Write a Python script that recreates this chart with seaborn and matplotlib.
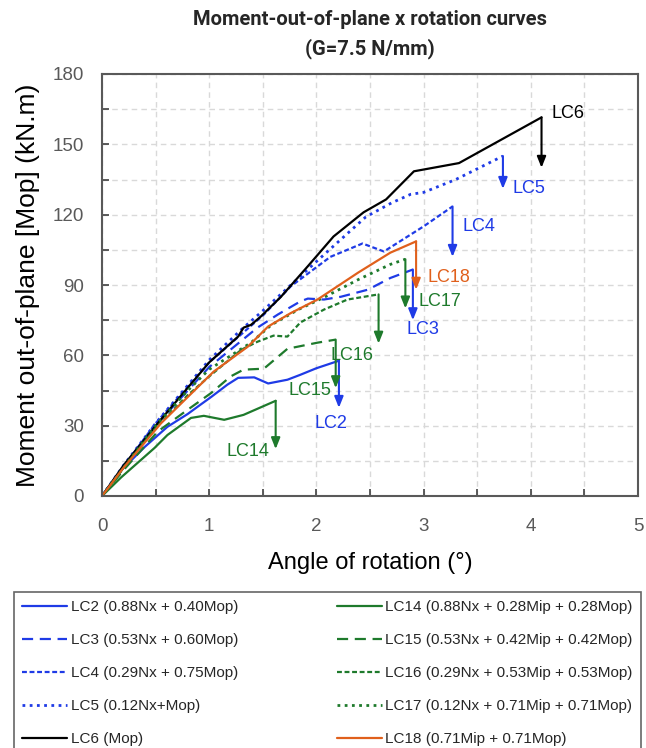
import matplotlib
matplotlib.use("Agg")
import matplotlib.pyplot as plt
import seaborn as sns
import pandas as pd
from matplotlib.ticker import MultipleLocator

# ---------------- data ----------------
lc2_x = [0, 0.18, 0.40, 0.61, 0.80, 0.92, 1.02, 1.17, 1.27, 1.42, 1.55, 1.73, 1.85, 2.00, 2.21]
lc2_y = [0, 11, 21, 29.5, 35, 39, 42.3, 47.5, 50.4, 50.6, 48, 49.6, 51.7, 54.5, 57.7]

lc3_x = [0, 0.20, 0.50, 1.00, 1.45, 1.64, 1.85, 1.92, 2.07, 2.23, 2.48, 2.69, 2.90]
lc3_y = [0, 12, 30, 55, 71.8, 77.4, 83, 84.2, 83.8, 85, 88, 93, 96.6]

lc4_x = [0, 0.20, 0.50, 1.00, 1.30, 1.51, 1.76, 2.13, 2.43, 2.63, 3.00, 3.27]
lc4_y = [0, 12.5, 31, 57, 69, 77.4, 89.4, 102, 107.7, 104.3, 115, 123.5]

lc5_x = [0, 0.20, 0.50, 1.00, 1.30, 1.50, 2.00, 2.46, 2.70, 2.88, 3.00, 3.30, 3.74]
lc5_y = [0, 13, 31, 58, 71, 79, 100, 119, 125, 128.7, 129.5, 135, 145]

lc6_x = [0, 0.20, 0.52, 1.00, 1.27, 1.32, 1.39, 1.48, 1.67, 1.92, 2.16, 2.44, 2.65, 2.91, 3.33, 4.10]
lc6_y = [0, 13, 31, 57, 68, 71.8, 73, 76.5, 85, 98, 110.7, 121, 126.5, 138.5, 142, 161.5]

lc14_x = [0, 0.18, 0.49, 0.61, 0.83, 0.95, 1.14, 1.32, 1.62]
lc14_y = [0, 8, 20.5, 26, 33.3, 34.2, 32.5, 34.6, 40.6]

lc15_x = [0, 0.20, 0.52, 0.76, 1.02, 1.20, 1.32, 1.51, 1.73, 2.01, 2.18]
lc15_y = [0, 11, 27.5, 35.5, 44, 51, 53.9, 54.3, 62.8, 65.4, 66.7]

lc16_x = [0, 0.20, 0.50, 0.80, 1.00, 1.30, 1.45, 1.60, 1.73, 1.85, 2.07, 2.29, 2.58]
lc16_y = [0, 12, 29, 43, 51, 62.4, 65.8, 68.4, 68, 74, 79.5, 83.8, 86]

lc17_x = [0, 0.20, 0.50, 0.80, 1.00, 1.39, 1.58, 1.83, 2.07, 2.39, 2.69, 2.83]
lc17_y = [0, 12, 30, 45, 54, 65.4, 73, 79.5, 84.7, 92.3, 98.8, 101]

lc18_x = [0, 0.20, 0.55, 1.04, 1.36, 1.55, 1.76, 2.01, 2.39, 2.69, 2.93]
lc18_y = [0, 12, 31, 53, 63.7, 72.3, 78, 83.8, 95.3, 103.8, 108.6]

names = ["LC2", "LC3", "LC4", "LC5", "LC6", "LC14", "LC15", "LC16", "LC17", "LC18"]
legend_labels = [
    "LC2 (0.88Nx + 0.40Mop)",
    "LC3 (0.53Nx + 0.60Mop)",
    "LC4 (0.29Nx + 0.75Mop)",
    "LC5 (0.12Nx+Mop)",
    "LC6 (Mop)",
    "LC14 (0.88Nx + 0.28Mip + 0.28Mop)",
    "LC15 (0.53Nx + 0.42Mip + 0.42Mop)",
    "LC16 (0.29Nx + 0.53Mip + 0.53Mop)",
    "LC17 (0.12Nx + 0.71Mip + 0.71Mop)",
    "LC18 (0.71Mip + 0.71Mop)",
]
# value the failure arrow drops to
drop_to = [37.6, 75, 102, 131, 140, 20, 46, 65, 80, 88]
# label anchor (left, vertical centre) positions in data units
label_x = [1.98, 2.84, 3.36, 3.83, 4.19, 1.16, 1.74, 2.13, 2.95, 3.04]
label_y = [31, 71, 115, 131, 163, 19, 45, 60, 83, 93]

xs = [lc2_x, lc3_x, lc4_x, lc5_x, lc6_x, lc14_x, lc15_x, lc16_x, lc17_x, lc18_x]
ys = [lc2_y, lc3_y, lc4_y, lc5_y, lc6_y, lc14_y, lc15_y, lc16_y, lc17_y, lc18_y]

# ---------------- styles ----------------
BLUE = "#1f3be6"
GREEN = "#1e7a2c"
ORANGE = "#e0601c"
BLACK = "#000000"
colors = [BLUE, BLUE, BLUE, BLUE, BLACK, GREEN, GREEN, GREEN, GREEN, ORANGE]
styles = ["-", (0, (5, 3)), (0, (2.2, 1.2)), (0, (1, 1.6)), "-",
          "-", (0, (5, 3)), (0, (2.2, 1.2)), (0, (1, 1.6)), "-"]
widths = [1.6, 1.6, 1.6, 2.0, 1.6, 1.6, 1.6, 1.6, 2.0, 1.6]

sns.set_theme(style="white")
plt.rcParams["font.family"] = ["Liberation Sans", "DejaVu Sans"]

fig = plt.figure(figsize=(6.46, 7.48), dpi=100)
ax = fig.add_axes([102 / 646, 1 - 496 / 748, (638 - 102) / 646, (496 - 74) / 748])

for i, n in enumerate(names):
    df = pd.DataFrame({"x": xs[i], "y": ys[i]})
    sns.lineplot(data=df, x="x", y="y", ax=ax, color=colors[i], linestyle=styles[i],
                 linewidth=widths[i], sort=False, estimator=None, label=legend_labels[i],
                 legend=False)
    # failure arrow
    ax.annotate("", xy=(xs[i][-1], drop_to[i]), xytext=(xs[i][-1], ys[i][-1]),
                arrowprops=dict(arrowstyle="-|>,head_length=0.55,head_width=0.22",
                                color=colors[i], lw=1.5, shrinkA=0, shrinkB=0))
    ax.text(label_x[i], label_y[i], n, color=colors[i], fontsize=13, ha="left", va="center")

ax.set_xlim(0, 5)
ax.set_ylim(0, 180)
ax.xaxis.set_major_locator(MultipleLocator(1))
ax.xaxis.set_minor_locator(MultipleLocator(0.5))
ax.yaxis.set_major_locator(MultipleLocator(30))
ax.yaxis.set_minor_locator(MultipleLocator(15))
ax.grid(True, which="both", linestyle=(0, (4, 3)), color="#d9d9d9", linewidth=1.0)
ax.set_axisbelow(True)
ax.tick_params(axis="both", which="both", direction="in", length=5, width=1.2,
               color="#404040", labelcolor="#595959", labelsize=13.5, pad=13)
ax.tick_params(axis="x", which="both", top=False, bottom=True, pad=16)
ax.tick_params(axis="y", which="both", left=True, right=False)
for s in ax.spines.values():
    s.set_color("#595959")
    s.set_linewidth(1.5)

ax.set_xlabel("Angle of rotation (°)", fontsize=17, color="black", labelpad=12)
ax.set_ylabel("Moment out-of-plane [Mop] (kN.m)", fontsize=19, color="black", labelpad=9)

ax.set_title("Moment-out-of-plane x rotation curves\n(G=7.5 N/mm)",
             fontsize=14.5, fontweight="bold", family=["Roboto", "DejaVu Sans"],
             linespacing=1.6, pad=14)

handles, labels = ax.get_legend_handles_labels()
leg = fig.legend(handles, labels, loc="upper left", bbox_to_anchor=(14 / 646, 1 - 592 / 748),
                 ncol=2, fontsize=11, frameon=True, fancybox=False, edgecolor="#404040",
                 handlelength=2.9, handletextpad=0.25, labelspacing=1.24,
                 columnspacing=6.5, borderpad=0.55, borderaxespad=0)
leg.get_frame().set_linewidth(1.2)

fig.savefig("out.png", dpi=100)
